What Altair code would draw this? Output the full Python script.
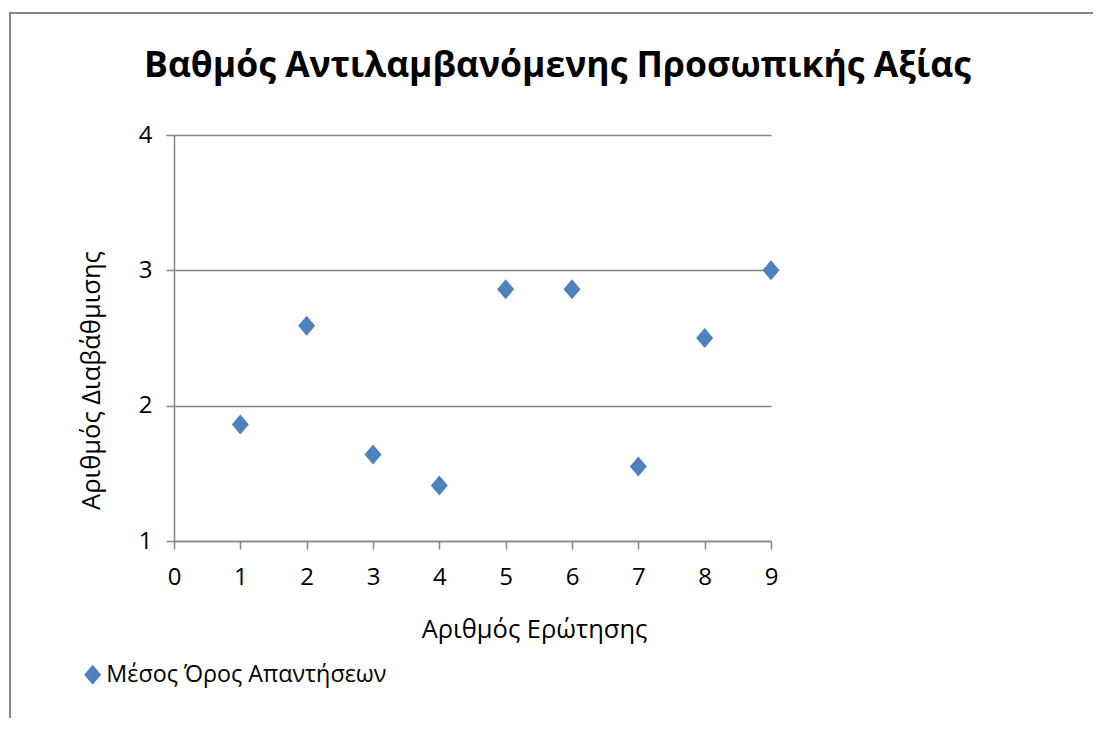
import altair as alt
import pandas as pd

# ---- data ----
questions = [1, 2, 3, 4, 5, 6, 7, 8, 9]
means = [1.86, 2.59, 1.64, 1.41, 2.86, 2.86, 1.55, 2.50, 3.00]
series_name = "Μέσος Όρος Απαντήσεων"
chart_title = "Βαθμός Αντιλαμβανόμενης Προσωπικής Αξίας"
x_title = "Αριθμός Ερώτησης"
y_title = "Αριθμός Διαβάθμισης"
x_ticks = [0, 1, 2, 3, 4, 5, 6, 7, 8, 9]
y_ticks = [1, 2, 3, 4]

df = pd.DataFrame({"q": questions, "m": means, "series": [series_name] * len(questions)})

FONT = "Open Sans"
BLUE = "#4F81BD"
GRAY = "#868686"
DIAMOND = "M-0.85,0L0,-1L0.85,0L0,1Z"

W, H = 597, 406

points = alt.Chart(df).mark_point(
    shape=DIAMOND, filled=True, size=400, opacity=1
).encode(
    x=alt.X("q:Q", scale=alt.Scale(domain=[0, 9], nice=False, zero=False),
            axis=alt.Axis(values=x_ticks, title=x_title, grid=False,
                          titleX=360, titleY=96, titleBaseline="alphabetic",
                          titleAlign="center", titleAnchor="start")),
    y=alt.Y("m:Q", scale=alt.Scale(domain=[1, 4], nice=False, zero=False),
            axis=alt.Axis(values=y_ticks, title=y_title, grid=True,
                          titleX=-75, titleY=245, titleAngle=270,
                          titleBaseline="alphabetic", titleAlign="center",
                          titleAnchor="start")),
    color=alt.Color("series:N", scale=alt.Scale(range=[BLUE]),
                    legend=alt.Legend(title=None, orient="none", legendX=-93,
                                      legendY=528, symbolType=DIAMOND,
                                      symbolSize=400, symbolOpacity=1,
                                      labelFont=FONT, labelFontSize=23.3,
                                      labelColor="#000000", labelOffset=2,
                                      labelLimit=1000, padding=0)),
)

title_df = pd.DataFrame({"t": [chart_title]})
title = alt.Chart(title_df).mark_text(
    font=FONT, fontSize=35.5, fontWeight="bold", color="#000000",
    align="center", baseline="alphabetic"
).encode(text="t:N", x=alt.value(383.5), y=alt.value(-58))

border_left = alt.Chart(alt.Data(values=[{"a": 1}])).mark_rule(
    stroke="#878787", strokeWidth=2
).encode(x=alt.value(-164), y=alt.value(-122), y2=alt.value(700))
border_top = alt.Chart(alt.Data(values=[{"a": 1}])).mark_rule(
    stroke="#878787", strokeWidth=2
).encode(x=alt.value(-165), x2=alt.value(1100), y=alt.value(-122))

chart = alt.layer(border_left, border_top, points, title).properties(
    width=W, height=H,
    autosize=alt.AutoSizeParams(type="none"),
    padding={"left": 166, "top": 127, "right": 322, "bottom": 177},
).configure_view(stroke=None).configure_axis(
    domainColor=GRAY, domainWidth=1.5, tickColor=GRAY, tickWidth=1.5,
    tickSize=8, gridColor=GRAY, gridWidth=1.5,
    labelFont=FONT, labelFontSize=24, labelColor="#000000",
    titleFont=FONT, titleFontSize=25.5, titleColor="#000000", titleFontWeight="normal",
).configure_axisX(labelPadding=16, labelFlush=False).configure_axisY(labelPadding=14)

chart.save("out.html", embed_options={"renderer": "svg", "actions": False})
